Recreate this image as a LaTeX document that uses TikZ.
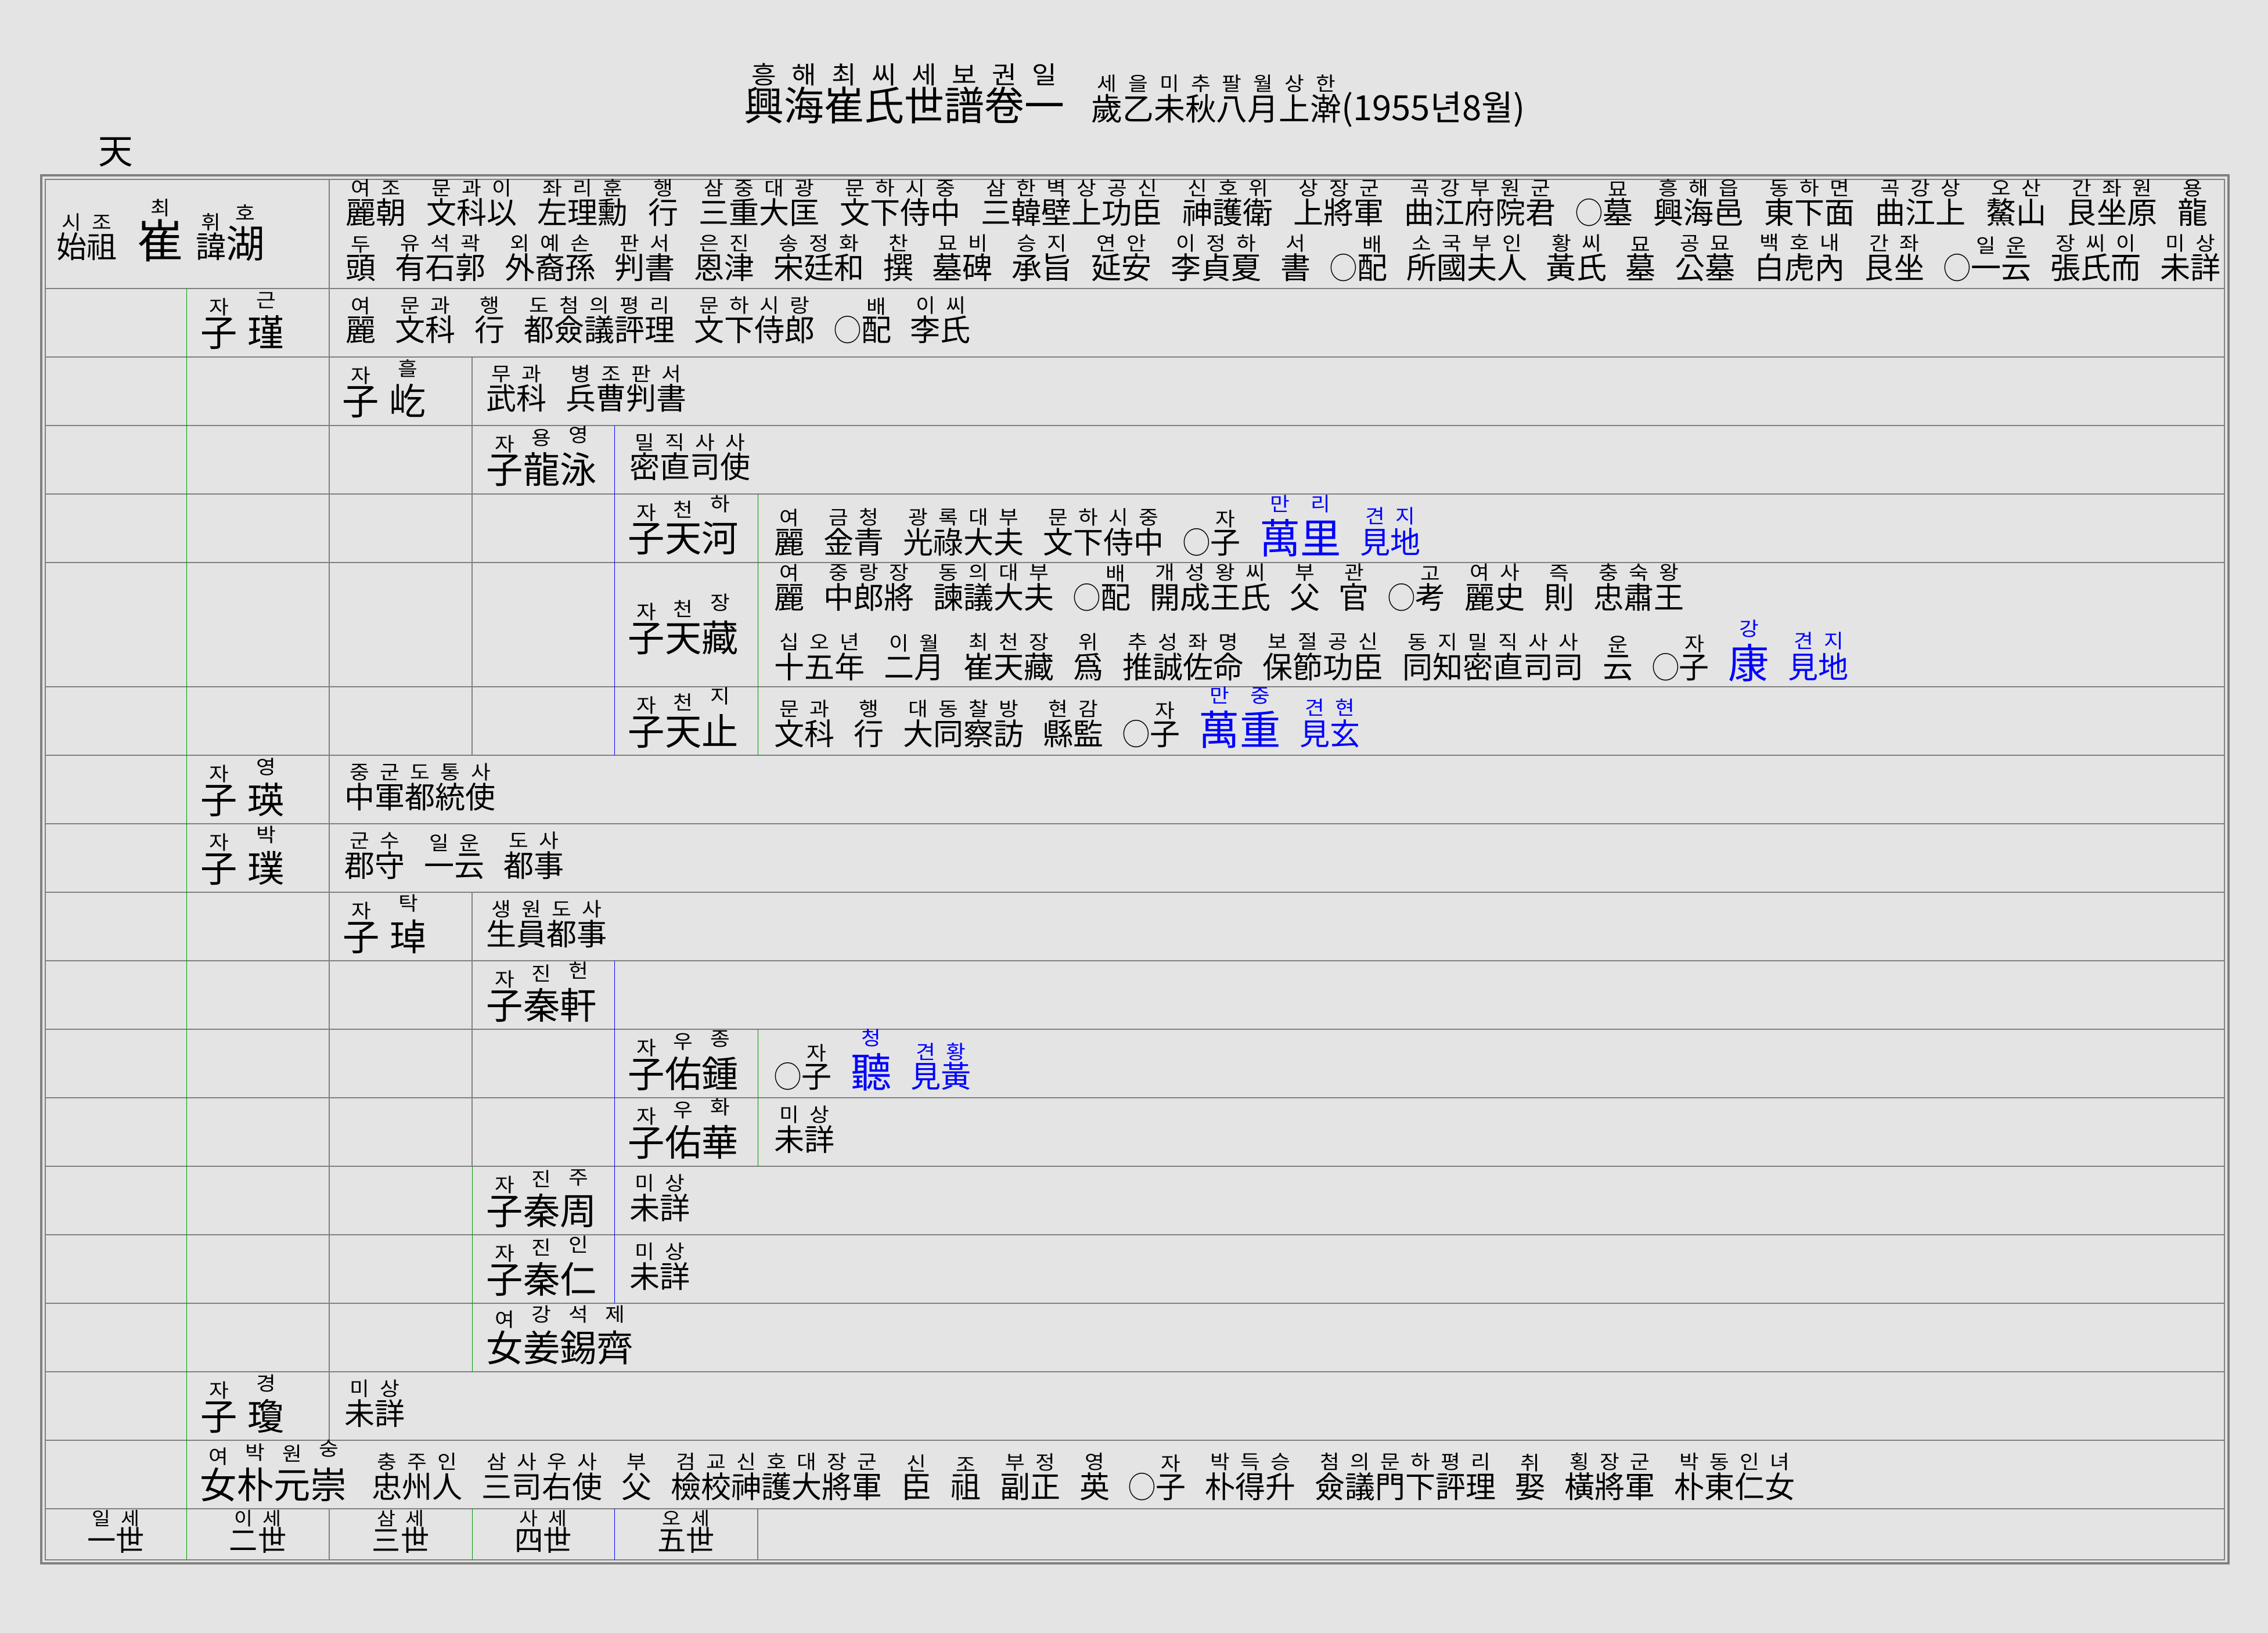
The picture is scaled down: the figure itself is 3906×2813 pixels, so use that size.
\documentclass[tikz,border=0pt]{standalone}
\usepackage{fontspec}
\newfontfamily\hanf{Noto Sans CJK KR}
\newfontfamily\rbfam{Noto Sans CJK KR}[FakeStretch=1.1]
\definecolor{paper}{RGB}{228,228,228}
\definecolor{rulegray}{RGB}{128,128,128}
\definecolor{gline}{RGB}{0,150,0}
\definecolor{bline}{RGB}{0,0,255}

\newdimen\rbw
\def\rbsize{9.5pt}
\newcommand\rubyfont{\rbfam\fontsize{\rbsize}{\rbsize}\selectfont}
\def\rsplit#1{\ifx\relax#1\else\hbox to\rbw{\hss#1\hss}\expandafter\rsplit\fi}
\newcommand\rw[3][1pt]{\leavevmode\rbw=1em\relax\vbox{\offinterlineskip\hbox{\rubyfont\rsplit#3\relax}\kern#1\hbox{#2}}}
\newcommand\oo{\scalebox{0.9}[0.98]{◯}}
\newcommand\txtfont{\hanf\fontsize{14.8pt}{16pt}\selectfont\spaceskip=0.63em\relax}
\newcommand\widetxtfont{\hanf\fontsize{14.8pt}{16pt}\selectfont\spaceskip=0.67em\relax}
\newcommand\nmfont{\hanf\fontsize{18pt}{20pt}\selectfont\def\rbsize{9.5pt}\spaceskip=0.3em\relax}
\newcommand\bign{\fontsize{20pt}{22pt}\selectfont}
\newcommand\txtsize{\fontsize{14.8pt}{16pt}\selectfont}

\begin{document}
\begin{tikzpicture}[x=0.01cm,y=-0.01cm,
  frameline/.style={draw=rulegray,line width=0.35mm},
  innerline/.style={draw=rulegray,line width=0.15mm},
  cellline/.style={draw=rulegray,line width=0.18mm},
  thinline/.style={line width=0.1mm},
  entry/.style={anchor=base west,inner sep=0pt,font=\txtfont},
  wideentry/.style={anchor=base west,inner sep=0pt,font=\widetxtfont},
  person/.style={anchor=base west,inner sep=0pt,font=\nmfont},
  gen/.style={anchor=base,inner sep=0pt,font=\hanf\fontsize{14pt}{16pt}\selectfont\def\rbsize{9pt}}]
 \fill[paper] (0,0) rectangle (3906,2813);
 \draw[frameline] (71,302) rectangle (3838,2693);
 \draw[innerline] (78,309) rectangle (3831,2687);
 \draw[cellline] (78,497) -- (3831,497);
 \draw[cellline] (78,615) -- (3831,615);
 \draw[cellline] (78,733) -- (3831,733);
 \draw[cellline] (78,851) -- (3831,851);
 \draw[cellline] (78,969) -- (3831,969);
 \draw[cellline] (78,1183) -- (3831,1183);
 \draw[cellline] (78,1301) -- (3831,1301);
 \draw[cellline] (78,1419) -- (3831,1419);
 \draw[cellline] (78,1537) -- (3831,1537);
 \draw[cellline] (78,1655) -- (3831,1655);
 \draw[cellline] (78,1773) -- (3831,1773);
 \draw[cellline] (78,1891) -- (3831,1891);
 \draw[cellline] (78,2009) -- (3831,2009);
 \draw[cellline] (78,2127) -- (3831,2127);
 \draw[cellline] (78,2245) -- (3831,2245);
 \draw[cellline] (78,2363) -- (3831,2363);
 \draw[cellline] (78,2481) -- (3831,2481);
 \draw[cellline] (78,2599) -- (3831,2599);
 \draw[thinline,draw=gline] (321,497) -- (321,2687);
 \draw[cellline] (567,309) -- (567,2481);
 \draw[cellline] (567,2599) -- (567,2687);
 \draw[cellline] (813,615) -- (813,1301);
 \draw[cellline] (813,1537) -- (813,2009);
 \draw[thinline,draw=gline] (813,2009) -- (813,2363);
 \draw[thinline,draw=gline] (813,2599) -- (813,2687);
 \draw[thinline,draw=bline] (1058,733) -- (1058,1301);
 \draw[thinline,draw=bline] (1058,1655) -- (1058,2245);
 \draw[thinline,draw=bline] (1058,2599) -- (1058,2687);
 \draw[thinline,draw=gline] (1305,851) -- (1305,1301);
 \draw[thinline,draw=gline] (1305,1773) -- (1305,2009);
 \draw[cellline] (1305,2599) -- (1305,2687);

 \node[anchor=base west,inner sep=0pt,font=\hanf\fontsize{19.6pt}{22pt}\selectfont\def\rbsize{12pt}] (title) at (1281,208) {\rw[0.5pt]{興海崔氏世譜卷一}{흥해최씨세보권일}};
 \node[anchor=base west,inner sep=0pt,font=\hanf\fontsize{15.3pt}{17pt}\selectfont\def\rbsize{9.5pt}] (date) at (1879,208) {\rw[1pt]{歲乙未秋八月上澣}{세을미추팔월상한}{\fontsize{17pt}{19pt}\selectfont(1955년8월)}};
 \node[inner sep=0pt,font=\hanf\fontsize{17pt}{19pt}\selectfont] (volmark) at (199,262) {天};

 \node[person] (n1) at (97,445) {{\txtsize\rw[1pt]{始祖}{시조}}\hspace{10pt}{\fontsize{22.5pt}{24pt}\selectfont\rw[1.5pt]{崔}{최}}\hspace{6pt}{\txtsize\rw[1pt]{諱}{휘}}{\fontsize{19pt}{21pt}\selectfont\rw[3pt]{湖}{호}}};
 \node[wideentry] (t1a) at (595,386) {\rw{麗朝}{여조} \rw{文科以}{문과이} \rw{左理勳}{좌리훈} \rw{行}{행} \rw{三重大匡}{삼중대광} \rw{文下侍中}{문하시중} \rw{三韓壁上功臣}{삼한벽상공신} \rw{神護衛}{신호위} \rw{上將軍}{상장군} \rw{曲江府院君}{곡강부원군} \oo\rw{墓}{묘} \rw{興海邑}{흥해읍} \rw{東下面}{동하면} \rw{曲江上}{곡강상} \rw{鰲山}{오산} \rw{艮坐原}{간좌원} \rw{龍}{용}};
 \node[entry] (t1b) at (595,481) {\rw{頭}{두} \rw{有石郭}{유석곽} \rw{外裔孫}{외예손} \rw{判書}{판서} \rw{恩津}{은진} \rw{宋廷和}{송정화} \rw{撰}{찬} \rw{墓碑}{묘비} \rw{承旨}{승지} \rw{延安}{연안} \rw{李貞夏}{이정하} \rw{書}{서} \oo\rw{配}{배} \rw{所國夫人}{소국부인} \rw{黃氏}{황씨} \rw{墓}{묘} \rw{公墓}{공묘} \rw{白虎內}{백호내} \rw{艮坐}{간좌} \oo\rw{一云}{일운} \rw{張氏而}{장씨이} \rw{未詳}{미상}};

 \node[person] (n2) at (345,597) {\rw[1pt]{子}{자}\hspace{5pt}\rw[3.5pt]{瑾}{근}};
 \node[entry] (t2) at (595,588) {\rw{麗}{여} \rw{文科}{문과} \rw{行}{행} \rw{都僉議評理}{도첨의평리} \rw{文下侍郎}{문하시랑} \oo\rw{配}{배} \rw{李氏}{이씨}};
 \node[person] (n3) at (589,715) {\rw[1pt]{子}{자}\hspace{5pt}\rw[3.5pt]{屹}{흘}};
 \node[entry] (t3) at (837,706) {\rw{武科}{무과} \rw{兵曹判書}{병조판서}};
 \node[person] (n4) at (837,833) {\rw[1pt]{子}{자}\rw[3pt]{龍}{용}\rw[4.5pt]{泳}{영}};
 \node[entry] (t4) at (1084,824) {\rw{密直司使}{밀직사사}};
 \node[person] (n5) at (1081,951) {\rw[1pt]{子}{자}\rw[3pt]{天}{천}\rw[4.5pt]{河}{하}};
 \node[entry] (t5) at (1333,953) {\rw{麗}{여} \rw{金青}{금청} \rw{光祿大夫}{광록대부} \rw{文下侍中}{문하시중} \oo\rw{子}{자} {\color{bline}\bign\rw[3pt]{萬里}{만리}} {\color{bline}\rw[1.5pt]{見地}{견지}}};
 \node[person] (n6) at (1081,1122) {\rw[1pt]{子}{자}\rw[3pt]{天}{천}\rw[4.5pt]{藏}{장}};
 \node[entry] (t6a) at (1333,1048) {\rw{麗}{여} \rw{中郎將}{중랑장} \rw{諫議大夫}{동의대부} \oo\rw{配}{배} \rw{開成王氏}{개성왕씨} \rw{父}{부} \rw{官}{관} \oo\rw{考}{고} \rw{麗史}{여사} \rw{則}{즉} \rw{忠肅王}{충숙왕}};
 \node[entry] (t6b) at (1333,1168) {\rw{十五年}{십오년} \rw{二月}{이월} \rw{崔天藏}{최천장} \rw{爲}{위} \rw{推誠佐命}{추성좌명} \rw{保節功臣}{보절공신} \rw{同知密直司司}{동지밀직사사} \rw{云}{운} \oo\rw{子}{자} {\color{bline}\bign\rw[3pt]{康}{강}} {\color{bline}\rw[1.5pt]{見地}{견지}}};
 \node[person] (n7) at (1081,1283) {\rw[1pt]{子}{자}\rw[3pt]{天}{천}\rw[4.5pt]{止}{지}};
 \node[entry] (t7) at (1333,1283) {\rw{文科}{문과} \rw{行}{행} \rw{大同察訪}{대동찰방} \rw{縣監}{현감} \oo\rw{子}{자} {\color{bline}\bign\rw[3pt]{萬重}{만중}} {\color{bline}\rw[1.5pt]{見玄}{견현}}};
 \node[person] (n8) at (345,1401) {\rw[1pt]{子}{자}\hspace{5pt}\rw[3.5pt]{瑛}{영}};
 \node[entry] (t8) at (593,1392) {\rw{中軍都統使}{중군도통사}};
 \node[person] (n9) at (345,1519) {\rw[1pt]{子}{자}\hspace{5pt}\rw[3.5pt]{璞}{박}};
 \node[entry] (t9) at (593,1510) {\rw{郡守}{군수} \rw{一云}{일운} \rw{都事}{도사}};
 \node[person] (n10) at (590,1637) {\rw[1pt]{子}{자}\hspace{5pt}\rw[3.5pt]{琸}{탁}};
 \node[entry] (t10) at (837,1628) {\rw{生員都事}{생원도사}};
 \node[person] (n11) at (837,1755) {\rw[1pt]{子}{자}\rw[3pt]{秦}{진}\rw[4.5pt]{軒}{헌}};
 \node[person] (n12) at (1081,1873) {\rw[1pt]{子}{자}\rw[3pt]{佑}{우}\rw[4.5pt]{鍾}{종}};
 \node[entry] (t12) at (1333,1873) {\oo\rw{子}{자} {\color{bline}\bign\rw[3pt]{聽}{청}} {\color{bline}\rw[0.5pt]{見黃}{견황}}};
 \node[person] (n13) at (1081,1991) {\rw[1pt]{子}{자}\rw[3pt]{佑}{우}\rw[4.5pt]{華}{화}};
 \node[entry] (t13) at (1333,1982) {\rw{未詳}{미상}};
 \node[person] (n14) at (837,2109) {\rw[1pt]{子}{자}\rw[3pt]{秦}{진}\rw[4.5pt]{周}{주}};
 \node[entry] (t14) at (1084,2100) {\rw{未詳}{미상}};
 \node[person] (n15) at (837,2227) {\rw[1pt]{子}{자}\rw[3pt]{秦}{진}\rw[4.5pt]{仁}{인}};
 \node[entry] (t15) at (1084,2218) {\rw{未詳}{미상}};
 \node[person] (n16) at (837,2345) {\rw[1pt]{女}{여}\rw[3.5pt]{姜錫齊}{강석제}};
 \node[person] (n17) at (345,2463) {\rw[1pt]{子}{자}\hspace{5pt}\rw[3.5pt]{瓊}{경}};
 \node[entry] (t17) at (593,2454) {\rw{未詳}{미상}};
 \node[person] (n18) at (344,2581) {\rw[1pt]{女}{여}\rw[3pt]{朴}{박}\rw[4pt]{元}{원}\rw[5pt]{崇}{숭}};
 \node[entry] (t18) at (640,2580) {\rw{忠州人}{충주인} \rw{三司右使}{삼사우사} \rw{父}{부} \rw{檢校神護大將軍}{검교신호대장군} \rw{臣}{신} \rw{祖}{조} \rw{副正}{부정} \rw{英}{영} \oo\rw{子}{자} \rw{朴得升}{박득승} \rw{僉議門下評理}{첨의문하평리} \rw{娶}{취} \rw{橫將軍}{횡장군} \rw{朴東仁女}{박동인녀}};

 \node[gen] (g1) at (199.5,2671) {\rw[0pt]{一世}{일세}};
 \node[gen] (g2) at (444,2671) {\rw[0pt]{二世}{이세}};
 \node[gen] (g3) at (690,2671) {\rw[0pt]{三世}{삼세}};
 \node[gen] (g4) at (935.5,2671) {\rw[0pt]{四世}{사세}};
 \node[gen] (g5) at (1181.5,2671) {\rw[0pt]{五世}{오세}};
\end{tikzpicture}
\end{document}
